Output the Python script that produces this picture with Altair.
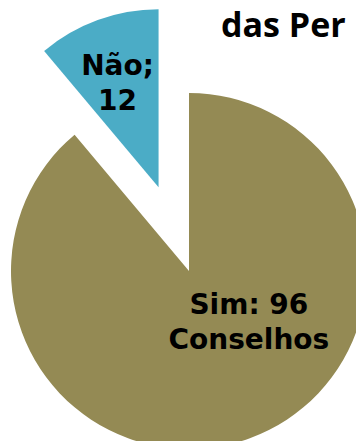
import altair as alt
import pandas as pd

# --- data ---
categorias = ["Sim", "Não"]
valores = [96, 12]
rotulos = ["Sim: 96\nConselhos", "Não;\n12"]
titulo = ["das Per"]

# --- style ---
CORES = ["#948A54", "#4BACC6"]
CX, CY, R = 181, 263, 178          # pie centre / radius in plot pixels
EXPLODE = {"Não": 89}              # slice pull-out distance (px)
LABEL_R = {"Sim": 74, "Não": 120}
LABEL_SHIFT = {"Sim": -34, "Não": 0}  # degrees


def per_cat(d, default=0):
    expr = str(default)
    for k, v in d.items():
        expr = f"(datum.categoria === '{k}' ? {v} : {expr})"
    return expr


df = pd.DataFrame({
    "categoria": categorias,
    "valor": valores,
    "rotulo": rotulos,
    "ordem": list(range(len(categorias))),
})

base = (
    alt.Chart(df)
    .transform_window(cum="sum(valor)", sort=[alt.SortField("ordem")], frame=[None, 0])
    .transform_joinaggregate(total="sum(valor)")
    .transform_calculate(
        t0="2*PI*(datum.cum - datum.valor)/datum.total",
        t1="2*PI*datum.cum/datum.total",
    )
    .transform_calculate(
        mid="(datum.t0 + datum.t1)/2",
        off=per_cat(EXPLODE),
        lr=per_cat(LABEL_R),
        ls=per_cat(LABEL_SHIFT),
    )
    .transform_calculate(
        cx=f"{CX} + datum.off*sin(datum.mid)",
        cy=f"{CY} - datum.off*cos(datum.mid)",
    )
    .transform_calculate(
        la="datum.mid + datum.ls*PI/180",
    )
    .transform_calculate(
        lx="datum.cx + datum.lr*sin(datum.la)",
        ly="datum.cy - datum.lr*cos(datum.la)",
    )
)

arcs = base.mark_arc(radius=R).encode(
    theta=alt.Theta("t0:Q", scale=None),
    theta2="t1:Q",
    x=alt.X("cx:Q", scale=None),
    y=alt.Y("cy:Q", scale=None),
    color=alt.Color("categoria:N", scale=alt.Scale(domain=categorias, range=CORES), legend=None),
)

labels = base.mark_text(
    font="DejaVu Sans", fontWeight="bold", fontSize=28, lineBreak="\n",
    lineHeight=35, align="center", baseline="alphabetic", color="#000000",
).encode(
    x=alt.X("lx:Q", scale=None),
    y=alt.Y("ly:Q", scale=None),
    text="rotulo:N",
)

title = alt.Chart(pd.DataFrame({"t": titulo})).mark_text(
    font="Open Sans", fontWeight="bold", fontSize=34, align="left",
    baseline="alphabetic", color="#000000",
).encode(x=alt.value(213), y=alt.value(29), text="t:N")

chart = (
    alt.layer(arcs, labels, title)
    .properties(width=348, height=433, padding=0, autosize="none")
    .configure_view(stroke=None)
)

chart.save("out.html", embed_options={"renderer": "svg", "actions": False})
